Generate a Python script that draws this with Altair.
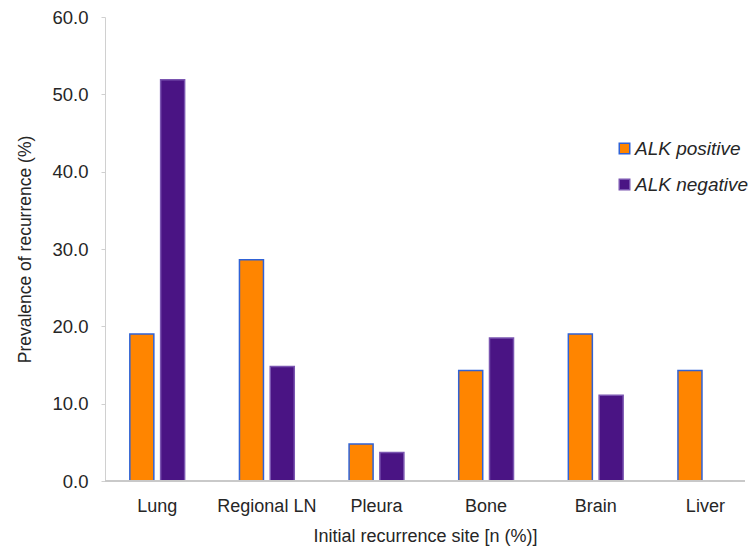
import altair as alt
import pandas as pd

sites = ["Lung", "Regional LN", "Pleura", "Bone", "Brain", "Liver"]
alk_positive = [19.0, 28.6, 4.8, 14.3, 19.0, 14.3]
alk_negative = [51.9, 14.8, 3.7, 18.5, 11.1, 0.0]
groups = ["ALK positive", "ALK negative"]
y_ticks = [0, 10, 20, 30, 40, 50, 60]

rows = []
for s, p, n in zip(sites, alk_positive, alk_negative):
    rows.append({"site": s, "group": groups[0], "value": p})
    rows.append({"site": s, "group": groups[1], "value": n})
df = pd.DataFrame(rows)

FONT = "Liberation Sans"
TXT = "#262626"

bars = alt.Chart(df).mark_bar(strokeWidth=1.5).encode(
    x=alt.X("site:N", sort=sites,
            scale=alt.Scale(paddingInner=0.5, paddingOuter=0.169, align=0.67),
            axis=alt.Axis(title="Initial recurrence site [n (%)]", labelAngle=0,
                          domain=False, ticks=False, labelPadding=16,
                          labelFontSize=18, titleFontSize=18, titlePadding=12,
                          labelColor=TXT, titleColor=TXT,
                          labelFont=FONT, titleFont=FONT, titleFontWeight="normal")),
    xOffset=alt.XOffset("group:N", sort=groups,
                        scale=alt.Scale(paddingInner=0.22, paddingOuter=0)),
    y=alt.Y("value:Q",
            scale=alt.Scale(domain=[0, 60], nice=False),
            axis=alt.Axis(title="Prevalence of recurrence (%)", values=y_ticks,
                          format=".1f", grid=False, domainColor="#d0d0d0",
                          tickColor="#d0d0d0", tickSize=4, labelPadding=13,
                          labelFontSize=18.5, titleFontSize=17.5, titlePadding=17,
                          labelColor=TXT, titleColor=TXT,
                          labelFont=FONT, titleFont=FONT, titleFontWeight="normal")),
    color=alt.Color("group:N", sort=groups,
                    scale=alt.Scale(domain=groups, range=["#FF8500", "#4A1484"]),
                    legend=alt.Legend(title=None, orient="none", legendX=510, legendY=122,
                                      symbolType="square", symbolSize=110,
                                      symbolStrokeWidth=1.5, labelFontSize=19,
                                      labelFontStyle="italic", labelFont=FONT,
                                      labelColor=TXT, rowPadding=16,
                                      labelOffset=1)),
    stroke=alt.Stroke("group:N", sort=groups,
                      scale=alt.Scale(domain=groups, range=["#2F62D6", "#7A55B0"]),
                      legend=None),
)

baseline = alt.Chart(df).mark_rule(color="#c8c8c8", strokeWidth=1.5).encode(
    y=alt.datum(0)
)

chart = alt.layer(bars, baseline).properties(
    width=640, height=464,
    autosize=alt.AutoSizeParams(type="none"),
    padding={"left": 105, "top": 17, "right": 4, "bottom": 65},
).configure_view(stroke=None)

chart.save("out.html", embed_options={"renderer": "svg", "actions": False})
